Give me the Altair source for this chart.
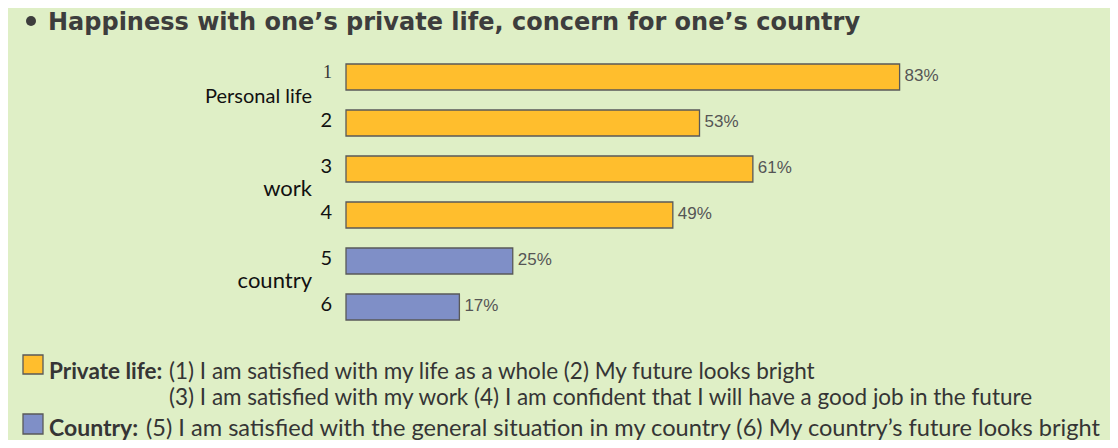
import altair as alt
import pandas as pd

# ---- data ----
items = ["1", "2", "3", "4", "5", "6"]
values = [83, 53, 61, 49, 25, 17]
series = ["Private life", "Private life", "Private life", "Private life", "Country", "Country"]
group_labels = ["Personal life", "work", "country"]
group_anchor = ["1", "3", "5"]
group_size = [20, 22, 22]
title_text = "Happiness with one\u2019s private life, concern for one\u2019s country"
legend_bold = ["Private life:", "", "Country:"]
legend_text = [
    "(1) I am satisfied with my life as a whole (2) My future looks bright",
    "(3) I am satisfied with my work (4) I am confident that I will have a good job in the future",
    "(5) I am satisfied with the general situation in my country (6) My country\u2019s future looks bright",
]
series_names = ["Private life", "Country"]
series_colors = ["#FFBE2D", "#7F8FC7"]

BG = "#DFEFC6"
STROKE = "#595959"
TXT = "#353535"
LFS = 22.5
LFS3 = 23.6

df = pd.DataFrame({"item": items, "value": values, "series": series,
                   "label": [f"{v}%" for v in values]})
gdf = pd.DataFrame({"group": group_labels, "item": group_anchor, "size": group_size})

W, H = 667, 276
yscale = alt.Scale(domain=items, paddingInner=20 / 46, paddingOuter=10 / 46)
xscale = alt.Scale(domain=[0, 100])
color = alt.Color("series:N", scale=alt.Scale(domain=series_names, range=series_colors), legend=None)

base = alt.Chart(df)
Y = alt.Y("item:N", scale=yscale, axis=None, sort=items)

bars = base.mark_bar(stroke=STROKE, strokeWidth=1.3).encode(
    x=alt.X("value:Q", scale=xscale, axis=None), y=Y, color=color)

vals = base.mark_text(align="left", baseline="middle", dx=5, dy=-1,
                      font="Liberation Sans", fontSize=17, color="#555555").encode(
    x=alt.X("value:Q", scale=xscale), y=Y, text="label:N")

num1 = base.transform_filter(alt.datum.item == "1").mark_text(
    align="right", baseline="middle", dy=-4, font="Liberation Serif", fontSize=18,
    color=TXT).encode(x=alt.value(-14), y=Y, text="item:N")
nums = base.transform_filter(alt.datum.item != "1").mark_text(
    align="right", baseline="middle", dy=-2, font="Lato", fontSize=20,
    color="#111111").encode(x=alt.value(-14), y=Y, text="item:N")

groups = alt.Chart(gdf).mark_text(
    align="right", baseline="middle", dy=20, font="Lato",
    color="#111111").encode(x=alt.value(-34), y=alt.Y("item:N", scale=yscale, axis=None, sort=items),
                            text="group:N", size=alt.Size("size:Q", scale=None, legend=None))

# title
one = alt.Chart(pd.DataFrame({"t": [title_text]}))
bullet = one.mark_point(filled=True, shape="circle", size=100, color="#3d3d3d", opacity=1).encode(
    x=alt.value(-315), y=alt.value(-33))
title = one.mark_text(align="left", baseline="alphabetic", font="DejaVu Sans", fontWeight="bold",
                      fontSize=24, color="#3d3d3d").encode(
    x=alt.value(-298), y=alt.value(-24), text="t:N")

# legend
sw = pd.DataFrame({"series": series_names})
sw1 = alt.Chart(sw).transform_filter(alt.datum.series == series_names[0]).mark_rect(
    stroke=STROKE, strokeWidth=1.3).encode(
    x=alt.value(-323), x2=alt.value(-303), y=alt.value(301), y2=alt.value(320), color=color)
sw2 = alt.Chart(sw).transform_filter(alt.datum.series == series_names[1]).mark_rect(
    stroke=STROKE, strokeWidth=1.3).encode(
    x=alt.value(-323), x2=alt.value(-303), y=alt.value(360), y2=alt.value(380), color=color)

lb1 = alt.Chart(pd.DataFrame({"b": [legend_bold[0]]})).mark_text(
    align="left", font="Lato", fontWeight="bold", fontSize=LFS, color=TXT).encode(
    x=alt.value(-297), y=alt.value(318), text="b:N")
lt1 = alt.Chart(pd.DataFrame({"t": [legend_text[0]]})).mark_text(
    align="left", font="Lato", fontSize=LFS, color=TXT).encode(
    x=alt.value(-177), y=alt.value(318), text="t:N")
lt2 = alt.Chart(pd.DataFrame({"t": [legend_text[1]]})).mark_text(
    align="left", font="Lato", fontSize=LFS, color=TXT).encode(
    x=alt.value(-177), y=alt.value(344), text="t:N")
lb3 = alt.Chart(pd.DataFrame({"b": [legend_bold[2]]})).mark_text(
    align="left", font="Lato", fontWeight="bold", fontSize=LFS3 - 0.6, color=TXT).encode(
    x=alt.value(-297), y=alt.value(375), text="b:N")
lt3 = alt.Chart(pd.DataFrame({"t": [legend_text[2]]})).mark_text(
    align="left", font="Lato", fontSize=LFS3, color=TXT).encode(
    x=alt.value(-200), y=alt.value(375), text="t:N")

chart = alt.layer(bars, vals, num1, nums, groups, bullet, title, sw1, sw2, lb1, lt1, lt2, lb3, lt3).properties(
    width=W, height=H,
    autosize=alt.AutoSizeParams(type="none"),
    padding={"left": 338, "top": 46, "right": 97, "bottom": 110},
    background=BG,
).configure_view(stroke=None)

chart.save("out.html", embed_options={"renderer": "svg", "actions": False})
